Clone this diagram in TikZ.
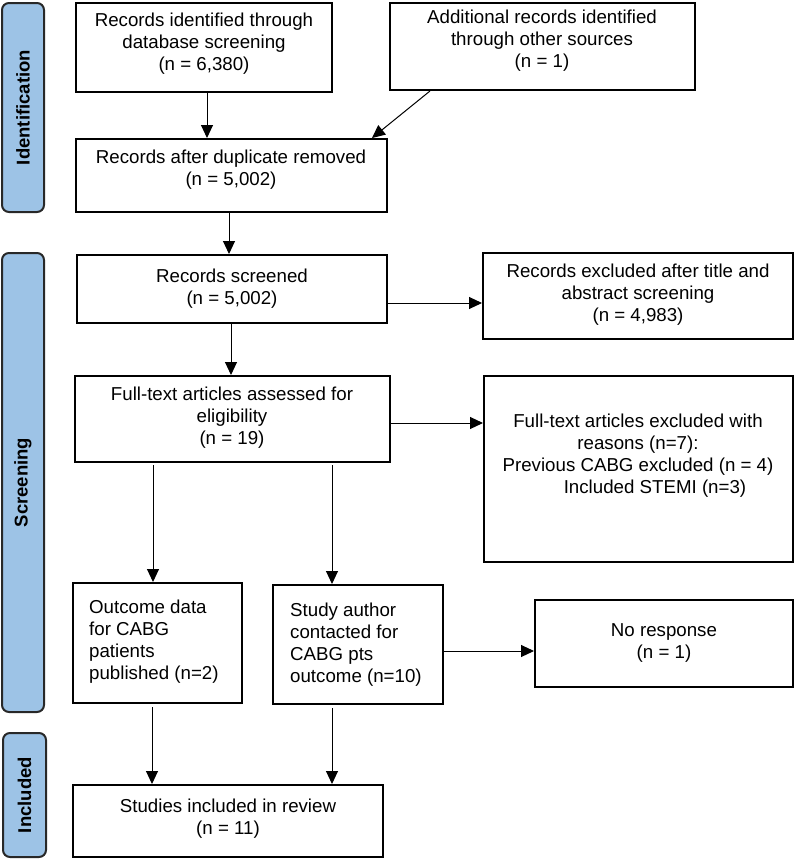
\documentclass[tikz,border=0pt]{standalone}
\usepackage{fontspec}
\setmainfont{Liberation Sans}
\usetikzlibrary{arrows.meta}
\definecolor{barblue}{RGB}{157,195,230}
\definecolor{bardraw}{RGB}{40,40,40}
\begin{document}
\begin{tikzpicture}[x=1pt,y=-1pt,
  box/.style={draw=black, line width=2pt, inner sep=0pt},
  txt/.style={inner sep=0pt, align=center, font=\fontsize{18.7}{22}\selectfont},
  ltxt/.style={inner sep=0pt, align=left, anchor=west, font=\fontsize{18.7}{22}\selectfont},
  bar/.style={draw=bardraw, fill=barblue, line width=2pt, rounded corners=7pt, inner sep=0pt,
    rotate=90, font=\fontsize{18.5}{22}\selectfont\bfseries},
  arr/.style={-{Triangle[length=13pt,width=12pt]}, line width=1pt}]
\useasboundingbox (0,0) rectangle (795,860);

% side bars
\node[bar, minimum width=209pt, minimum height=42pt] (idbar) at (23,107.5) {Identification};
\node[bar, minimum width=459pt, minimum height=42pt] (scrbar) at (23,482.5) {Screening};
\node[bar, minimum width=124pt, minimum height=43pt] (incbar) at (24.5,795) {Included};

% boxes
\node[box, minimum width=256pt, minimum height=89pt] (b1) at (204,47.5) {};
\node[txt] (b1t) at (204,43.5) {Records identified through\\database screening\\(n = 6,380)};

\node[box, minimum width=305pt, minimum height=87pt] (b2) at (542.5,46.5) {};
\node[txt] (b2t) at (542,40.5) {Additional records identified\\through other sources\\(n = 1)};

\node[box, minimum width=311pt, minimum height=73pt] (b3) at (231.5,175.5) {};
\node[txt] (b3t) at (231,170) {Records after duplicate removed\\(n = 5,002)};

\node[box, minimum width=310pt, minimum height=68pt] (b4) at (232,289) {};
\node[txt] (b4t) at (232,288.5) {Records screened\\(n = 5,002)};

\node[box, minimum width=310pt, minimum height=86pt] (b5) at (638,296) {};
\node[txt] (b5t) at (638,295) {Records excluded after title and\\abstract screening\\(n = 4,983)};

\node[box, minimum width=315pt, minimum height=86pt] (b6) at (232.5,419) {};
\node[txt] (b6t) at (232,418) {Full-text articles assessed for\\eligibility\\(n = 19)};

\node[box, minimum width=309pt, minimum height=186pt] (b7) at (638.5,469) {};
\node[txt] (b7t) at (638,455.5) {Full-text articles excluded with\\reasons (n=7):\\Previous CABG excluded (n = 4)\\\hspace*{34pt}Included STEMI (n=3)};

\node[box, minimum width=169pt, minimum height=120pt] (b8) at (157.5,643) {};
\node[ltxt] (b8t) at (89,642) {Outcome data\\for CABG\\patients\\published (n=2)};

\node[box, minimum width=170pt, minimum height=119pt] (b9) at (358,644.5) {};
\node[ltxt] (b9t) at (290,644.5) {Study author\\contacted for\\CABG pts\\outcome (n=10)};

\node[box, minimum width=258pt, minimum height=87pt] (b10) at (664,643.5) {};
\node[txt] (b10t) at (664,642.5) {No response\\(n = 1)};

\node[box, minimum width=310pt, minimum height=72pt] (b11) at (228,821) {};
\node[txt] (b11t) at (228,819) {Studies included in review\\(n = 11)};

% arrows
\draw[arr] (207,0 |- b1.south) -- (207,0 |- b3.north);
\draw[arr] (430,0 |- b2.south) -- (372,0 |- b3.north);
\draw[arr] (229,0 |- b3.south) -- (229,0 |- b4.north);
\draw[arr] (b4.east |- 0,303) -- (b5.west |- 0,303);
\draw[arr] (231,0 |- b4.south) -- (231,0 |- b6.north);
\draw[arr] (b6.east |- 0,423) -- (b7.west |- 0,423);
\draw[arr, shorten <=2pt] (153,0 |- b6.south) -- (153,0 |- b8.north);
\draw[arr, shorten <=2pt] (332,0 |- b6.south) -- (332,0 |- b9.north);
\draw[arr] (b9.east |- 0,651) -- (b10.west |- 0,651);
\draw[arr, shorten <=3pt] (152,0 |- b8.south) -- (152,0 |- b11.north);
\draw[arr, shorten <=3pt] (332,0 |- b9.south) -- (332,0 |- b11.north);
\end{tikzpicture}
\end{document}
